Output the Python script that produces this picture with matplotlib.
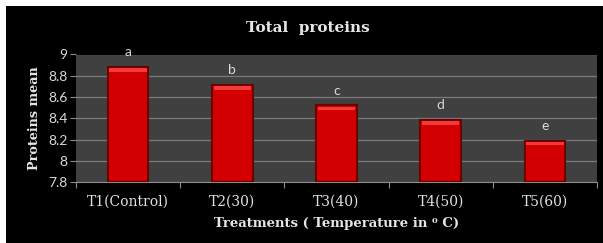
import matplotlib
matplotlib.use("Agg")
import matplotlib.pyplot as plt
from matplotlib.patches import Rectangle
import numpy as np

# data
treatments = ["T1(Control)", "T2(30)", "T3(40)", "T4(50)", "T5(60)"]
protein_mean = [8.88, 8.71, 8.52, 8.38, 8.19]
letters = ["a", "b", "c", "d", "e"]

fig = plt.figure(figsize=(6.03, 2.43), dpi=100)
fig.patch.set_facecolor("black")
# thin white margin at top and left
fig.patches.append(Rectangle((0, 1 - 6 / 243), 1, 6 / 243, transform=fig.transFigure,
                             facecolor="white", edgecolor="none"))
fig.patches.append(Rectangle((0, 0), 6 / 603, 1, transform=fig.transFigure,
                             facecolor="white", edgecolor="none"))

ax = fig.add_axes([76 / 603, 61 / 243, 521 / 603, 127.5 / 243])
ax.set_facecolor("#404040")

x = np.arange(len(treatments))
vals = np.array(protein_mean)
w = 0.39
base = 7.8

# main bar body with darker bevel edges
ax.bar(x, vals - base, bottom=base, width=w, color="#d20000",
       edgecolor="#6e0000", linewidth=1.5, zorder=3)
# top highlight strip
ax.bar(x, 0.035, bottom=vals - 0.045, width=w * 0.92, color="#f23a3a",
       edgecolor="none", zorder=4)

for xi, v, lab in zip(x, vals, letters):
    ax.text(xi, v + 0.14, lab, ha="center", va="center", color="#d9d9d9",
            fontsize=10, family="Lato", clip_on=False)

ax.set_ylim(7.8, 9.0)
ax.set_xlim(-0.5, len(treatments) - 0.5)
ax.set_yticks(np.arange(7.8, 9.01, 0.2))
ax.set_yticklabels(["7.8", "8", "8.2", "8.4", "8.6", "8.8", "9"])
ax.yaxis.grid(True, color="#7a7a7a", linewidth=0.9, zorder=0)
ax.set_axisbelow(True)

# ticks at category boundaries, labels at the centres
ax.set_xticks(np.arange(-0.5, len(treatments), 1.0))
ax.set_xticklabels([])
ax.set_xticks(x, minor=True)
ax.set_xticklabels(treatments, minor=True, family="DejaVu Serif", fontsize=10,
                   color="#e0e0e0")
ax.tick_params(axis="x", which="major", length=4, color="#8c8c8c", direction="out")
ax.tick_params(axis="x", which="minor", length=0, pad=9)
ax.tick_params(axis="y", length=4, color="#8c8c8c", labelcolor="#d9d9d9",
               labelsize=10, pad=2)
for t in ax.get_yticklabels():
    t.set_family("Lato")

for s in ["top", "right", "left"]:
    ax.spines[s].set_visible(False)
ax.spines["bottom"].set_color("#8c8c8c")

ax.set_xlabel("Treatments ( Temperature in \u2070 C)", family="DejaVu Serif",
              fontweight="bold", fontsize=9.5, color="#e6e6e6", labelpad=6)
ax.set_ylabel("Proteins mean", family="DejaVu Serif", fontweight="bold",
              fontsize=9.2, color="#e6e6e6", labelpad=5)
fig.text(308 / 603, 1 - 28 / 243, "Total  proteins", ha="center", va="center",
         family="DejaVu Serif", fontweight="bold", fontsize=11, color="#e6e6e6")

fig.savefig("out.png", dpi=100, facecolor=fig.get_facecolor())
